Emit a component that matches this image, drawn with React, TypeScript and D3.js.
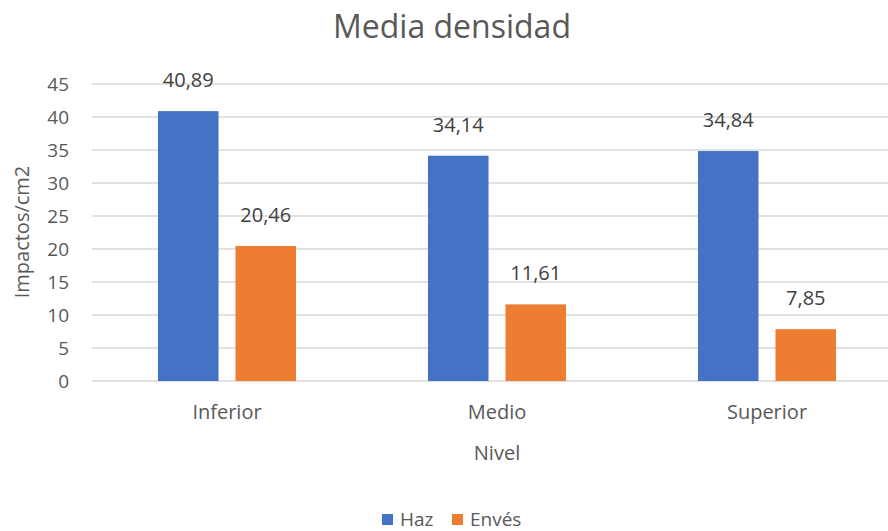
import { scaleBand, scaleLinear } from "d3";

const categories = ["Inferior", "Medio", "Superior"];
const series = ["Haz", "Envés"];
const haz = [40.89, 34.14, 34.84];
const enves = [20.46, 11.61, 7.85];
const yTicks = [0, 5, 10, 15, 20, 25, 30, 35, 40, 45];
const colors = ["#4472C4", "#ED7D31"];

const W = 888;
const H = 531;
const FONT = "'Open Sans', 'Noto Sans', sans-serif";

function App() {
    const values = [haz, enves];

    const x = scaleBand().domain(categories).range([92, 902]);
    const xInner = scaleBand()
        .domain(series)
        .range([0, x.bandwidth()])
        .paddingInner(0.219)
        .paddingOuter(0.851);
    const y = scaleLinear().domain([0, 45]).range([381, 84]);

    const fmt = (v: number) => v.toFixed(2).replace(".", ",");

    return (
        <div style={{ position: "absolute", left: 0, top: 0 }}>
            <svg width={W} height={H} style={{ display: "block", fontFamily: FONT }}>
                <rect width={W} height={H} fill="#fff" />
                <text x={452} y={38} textAnchor="middle" fontSize={32} fill="#595959">
                    Media densidad
                </text>

                {/* grid */}
                {yTicks.map((t) => (
                    <g key={t}>
                        <line x1={92} x2={W} y1={y(t)} y2={y(t)} stroke="#D9D9D9" strokeWidth={1.5} />
                        <text x={69} y={y(t) + 7} textAnchor="end" fontSize={19} fill="#595959">
                            {t}
                        </text>
                    </g>
                ))}

                {/* bars */}
                {series.map((s, si) =>
                    categories.map((c, ci) => {
                        const v = values[si][ci];
                        const bx = (x(c) as number) + (xInner(s) as number);
                        const bw = xInner.bandwidth();
                        return (
                            <g key={s + c}>
                                <rect x={bx} y={y(v)} width={bw} height={y(0) - y(v)} fill={colors[si]} />
                                <text
                                    x={bx + bw / 2}
                                    y={y(v) - 24}
                                    textAnchor="middle"
                                    fontSize={20}
                                    fill="#404040"
                                >
                                    {fmt(v)}
                                </text>
                            </g>
                        );
                    })
                )}

                {/* category labels */}
                {categories.map((c) => (
                    <text
                        key={c}
                        x={(x(c) as number) + x.bandwidth() / 2}
                        y={419}
                        textAnchor="middle"
                        fontSize={20}
                        fill="#595959"
                    >
                        {c}
                    </text>
                ))}

                <text x={497} y={460} textAnchor="middle" fontSize={20} fill="#595959">
                    Nivel
                </text>
                <text
                    transform="translate(29,232) rotate(-90)"
                    textAnchor="middle"
                    fontSize={20}
                    fill="#595959"
                >
                    Impactos/cm2
                </text>

                {/* legend */}
                {series.map((s, i) => {
                    const lx = i === 0 ? 382 : 452;
                    return (
                        <g key={s}>
                            <rect x={lx} y={514} width={11} height={11} fill={colors[i]} />
                            <text x={lx + 18} y={526} fontSize={19} fill="#595959">
                                {s}
                            </text>
                        </g>
                    );
                })}
            </svg>
        </div>
    );
}

export default App;
